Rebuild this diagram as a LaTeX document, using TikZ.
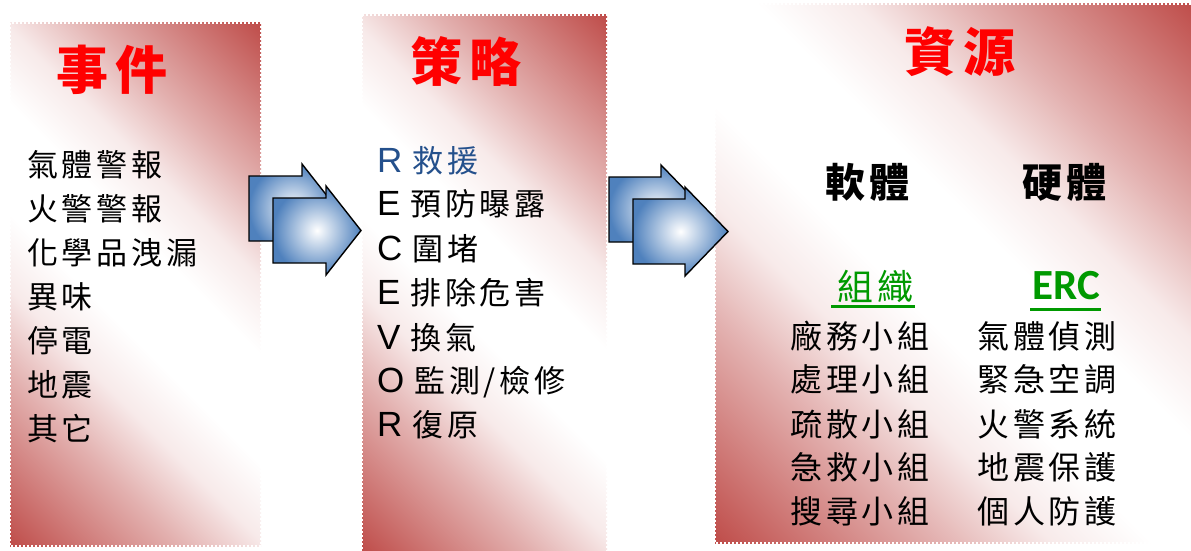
\documentclass[tikz,border=0pt]{standalone}
\usepackage{fontspec}
\setmainfont{Noto Sans CJK TC}
\newfontfamily\cjk[LetterSpace=12]{Noto Sans CJK TC}
\newfontfamily\lat{Liberation Sans}
\newfontfamily\ercfont{Carlito}
\definecolor{pr}{RGB}{192,80,77}
\definecolor{arrowblue}{RGB}{79,129,189}
\definecolor{titlered}{RGB}{255,0,0}
\definecolor{ercgreen}{RGB}{0,153,0}
\definecolor{rblue}{RGB}{36,80,140}
\colorlet{prm}{pr!45}
\colorlet{prs}{pr!12}
\pgfdeclarehorizontalshading{panelgrad}{100bp}{color(0bp)=(pr); color(15bp)=(pr); color(30bp)=(prm); color(38bp)=(prs); color(45bp)=(white); color(55bp)=(white); color(62bp)=(prs); color(70bp)=(prm); color(85bp)=(pr); color(100bp)=(pr)}
\newcommand\blockarrow[4]{%
  \shade[arrowbox] (#1,#2-32.5) -- (#3,#2-32.5) -- (#3,#2-44.5) -- (#4,#2) -- (#3,#2+44.5) -- (#3,#2+32.5) -- (#1,#2+32.5) -- cycle;}
\begin{document}
\begin{tikzpicture}[x=1pt,y=-1pt,
  panelfill/.style={shading=panelgrad, shading angle=45},
  panelborder/.style={draw=white, line width=1.2pt, dash pattern=on 2pt off 2pt},
  arrowbox/.style={inner color=white, outer color=arrowblue, draw=black, line width=1.4pt, line join=miter},
  title/.style={inner sep=0pt, text=titlered, font={\cjk\bfseries\fontsize{52}{52}\selectfont}},
  item/.style={inner sep=0pt, anchor=west, font={\cjk\fontsize{31}{31}\selectfont}},
  itemb/.style={inner sep=0pt, anchor=west, font={\cjk\fontsize{32}{32}\selectfont}},
  head/.style={inner sep=0pt, anchor=west, font={\cjk\bfseries\fontsize{40}{40}\selectfont}},
  ul/.style={draw=ercgreen, line width=3pt}]
\useasboundingbox (0,0) rectangle (1191,551);
% panels
\shade[panelfill] (10,23) rectangle (261,546);
\draw[panelborder] (10,23) rectangle (261,546);
\shade[panelfill] (362,15) rectangle (607,553);
\draw[panelborder] (362,15) rectangle (607,553);
\shade[panelfill] (715,4) rectangle (1194,543);
\draw[panelborder] (715,4) rectangle (1194,543);
% arrows
\blockarrow{249}{208.5}{302}{337}
\blockarrow{273}{230.5}{326}{361}
\blockarrow{609}{209.5}{661}{704}
\blockarrow{633}{231.5}{685}{728}
% panel 1
\node[title] (t1) at (112,70) {事件};
\node[item] (a1) at (27,165) {氣體警報};
\node[item] (a2) at (27,209) {火警警報};
\node[item] (a3) at (27,253) {化學品洩漏};
\node[item] (a4) at (27,297) {異味};
\node[item] (a5) at (27,341) {停電};
\node[item] (a6) at (27,385) {地震};
\node[item] (a7) at (27,429) {其它};
% panel 2
\node[title] (t2) at (466,62) {策略};
\node[item, text=rblue] (b1) at (377,161) {{\lat\fontsize{35}{35}\selectfont R}\hspace{10pt}救援};
\node[item] (b2) at (377,204) {{\lat\fontsize{35}{35}\selectfont E}\hspace{10pt}預防曝露};
\node[item] (b3) at (377,249) {{\lat\fontsize{35}{35}\selectfont C}\hspace{10pt}圍堵};
\node[item] (b4) at (377,293) {{\lat\fontsize{35}{35}\selectfont E}\hspace{10pt}排除危害};
\node[item] (b5) at (377,338) {{\lat\fontsize{35}{35}\selectfont V}\hspace{10pt}換氣};
\node[item] (b6) at (377,382) {{\lat\fontsize{35}{35}\selectfont O}\hspace{10pt}監測/檢修};
\node[item] (b7) at (377,425) {{\lat\fontsize{35}{35}\selectfont R}\hspace{10pt}復原};
% panel 3
\node[title] (t3) at (960,52) {資源};
\node[head] (soft) at (825,182) {軟體};
\node[head] (hard) at (1022,182) {硬體};
\node[inner sep=0pt, anchor=west, text=ercgreen, font={\cjk\fontsize{36}{36}\selectfont}] (org) at (837,286) {組\hspace{4pt}織};
\node[inner sep=0pt, anchor=west, text=ercgreen, font={\ercfont\bfseries\fontsize{43}{43}\selectfont}] (erc) at (1032,286) {ERC};
\draw[ul] ([xshift=-6pt,yshift=-4pt]org.south west) -- ([xshift=2pt,yshift=-4pt]org.south east);
\draw[ul] ([xshift=-2pt,yshift=-9pt]erc.south west) -- ([xshift=1pt,yshift=-9pt]erc.south east);
\node[itemb] (c1) at (790,336) {廠務小組};
\node[itemb] (c2) at (790,379) {處理小組};
\node[itemb] (c3) at (790,424) {疏散小組};
\node[itemb] (c4) at (790,467) {急救小組};
\node[itemb] (c5) at (790,511) {搜尋小組};
\node[itemb] (d1) at (977,336) {氣體偵測};
\node[itemb] (d2) at (977,379) {緊急空調};
\node[itemb] (d3) at (977,424) {火警系統};
\node[itemb] (d4) at (977,467) {地震保護};
\node[itemb] (d5) at (977,511) {個人防護};
\end{tikzpicture}
\end{document}
